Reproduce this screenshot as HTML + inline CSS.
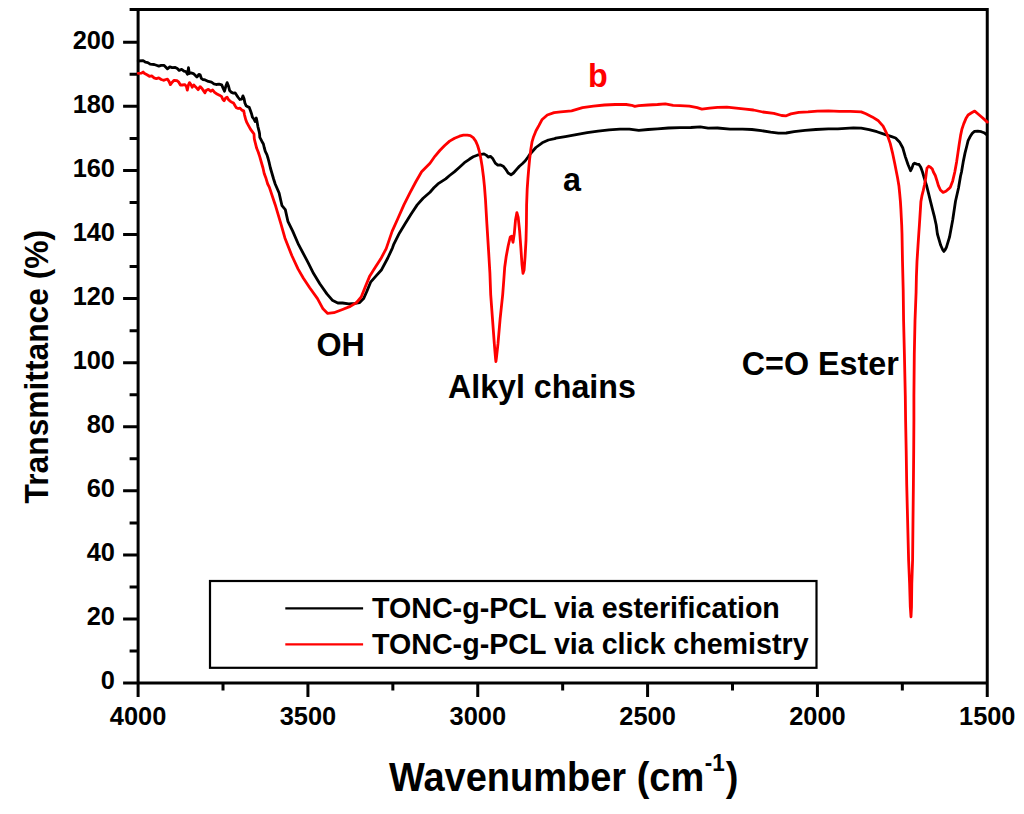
<!DOCTYPE html>
<html lang="en"><head><meta charset="utf-8"><title>FTIR spectra</title>
<style>html,body{margin:0;padding:0;background:#fff}svg{display:block}text{font-family:"Liberation Sans",Arial,Helvetica,sans-serif;font-weight:bold;fill:#000}</style></head><body>
<svg width="1024" height="814" viewBox="0 0 1024 814">
<rect width="1024" height="814" fill="#fff"/>
<g stroke="#000" stroke-width="3" fill="none" stroke-linecap="butt">
<path d="M129.6,9.5 H988.75 M987.25,9.5 V697.1 M123.1,683.1 H987.25 M138.1,9.5 V697.1"/>
<path d="M129.6,651.06 H138.1 M123.1,619.01 H138.1 M129.6,586.97 H138.1 M123.1,554.93 H138.1 M129.6,522.89 H138.1 M123.1,490.85 H138.1 M129.6,458.80 H138.1 M123.1,426.76 H138.1 M129.6,394.72 H138.1 M123.1,362.68 H138.1 M129.6,330.63 H138.1 M123.1,298.59 H138.1 M129.6,266.55 H138.1 M123.1,234.50 H138.1 M129.6,202.46 H138.1 M123.1,170.42 H138.1 M129.6,138.38 H138.1 M123.1,106.34 H138.1 M129.6,74.29 H138.1 M123.1,42.25 H138.1"/>
<path d="M223.01,683.1 V690.6 M307.93,683.1 V697.1 M392.85,683.1 V690.6 M477.76,683.1 V697.1 M562.67,683.1 V690.6 M647.59,683.1 V697.1 M732.50,683.1 V690.6 M817.42,683.1 V697.1 M902.34,683.1 V690.6"/>
</g>
<polyline points="138.2,61.0 143.1,60.6 145.4,62.2 147.8,62.6 150.2,64.2 154.1,64.5 156.4,65.3 158.8,66.1 161.2,65.3 163.9,65.3 165.9,67.3 167.4,68.9 169.8,66.9 172.2,67.7 175.3,67.5 177.3,68.5 179.2,70.4 181.6,69.3 184.0,71.2 185.9,71.6 187.5,74.4 188.5,67.7 189.3,73.6 191.0,72.8 193.4,73.6 195.4,75.6 196.9,77.1 198.9,74.4 200.1,74.8 201.3,78.3 202.8,79.5 205.2,79.9 208.4,81.4 211.5,82.2 213.9,83.8 216.2,84.5 219.0,84.2 221.7,84.9 223.1,88.1 224.5,91.2 226.0,85.7 227.1,82.6 228.4,85.7 229.6,90.4 231.6,92.4 233.5,93.2 235.1,92.8 236.7,95.2 238.2,97.5 239.8,99.5 241.8,99.1 242.9,95.9 244.1,98.7 244.9,103.0 246.1,105.8 248.1,106.9 249.2,107.3 250.4,110.5 251.6,114.0 252.4,117.2 254.0,119.1 255.1,121.5 256.3,118.0 257.1,121.9 257.9,126.6 259.1,131.3 259.6,134.0 259.8,137.3 261.8,141.2 263.4,144.0 264.2,147.5 265.3,151.4 266.9,154.6 268.1,158.5 269.3,163.2 270.4,168.0 272.0,173.5 273.6,179.0 275.2,184.0 279.1,193.0 282.0,205.7 285.3,209.6 287.9,221.3 292.7,231.1 298.6,244.7 306.4,259.4 308.1,262.7 313.6,273.6 319.8,283.8 326.9,293.9 332.3,300.2 337.8,303.0 342.5,303.0 348.8,303.8 355.0,303.3 359.7,302.5 363.6,298.6 366.7,291.6 370.6,282.2 376.1,275.9 381.6,269.7 387.8,258.0 392.5,247.8 393.6,244.7 399.5,232.9 405.4,223.3 411.3,213.7 417.2,204.9 423.1,198.3 430.0,192.2 433.9,187.8 437.9,183.9 441.8,181.4 445.7,178.9 449.6,175.5 454.6,171.6 459.5,167.2 464.4,162.7 469.3,159.3 473.2,156.8 477.2,155.2 481.1,154.4 484.0,153.9 486.5,155.4 488.4,157.1 490.4,156.3 492.9,158.8 495.3,163.2 497.8,165.2 500.7,165.0 503.2,166.2 505.6,169.1 508.1,173.0 511.0,174.8 513.5,173.0 516.4,169.6 519.4,166.2 522.3,163.7 525.3,160.8 528.2,156.8 529.7,154.5 535.9,147.5 542.2,142.8 548.4,140.0 554.7,138.6 555.9,138.1 565.3,136.6 576.2,134.7 587.2,132.7 598.1,131.1 609.1,129.8 620.0,129.1 629.4,129.2 638.8,130.3 648.1,129.5 657.5,128.8 668.4,128.0 680.0,127.7 690.9,127.5 700.3,126.9 708.1,128.1 717.5,128.0 730.0,129.1 742.5,129.1 751.9,129.5 761.2,130.6 770.6,132.2 778.4,133.1 786.2,133.0 794.1,131.6 805.0,130.3 815.9,129.5 828.4,128.8 837.8,128.9 845.6,128.3 853.4,127.8 861.2,128.1 869.1,129.7 876.9,131.7 884.7,134.4 890.9,136.4 895.6,138.0 899.5,141.9 902.7,147.7 905.3,156.6 908.0,164.5 910.6,170.7 911.9,168.1 913.3,164.1 914.6,163.2 916.8,164.1 919.0,164.5 920.8,167.2 922.5,172.0 924.2,177.9 926.6,185.7 928.6,193.6 930.5,201.4 932.5,209.3 934.5,217.2 936.2,225.0 937.4,234.0 940.7,245.3 942.8,250.0 943.9,251.4 945.0,250.0 946.4,247.3 949.5,237.2 952.7,220.0 955.5,201.2 958.5,188.0 960.5,176.2 961.5,172.0 963.2,161.9 965.0,153.1 966.8,146.0 968.1,140.7 969.9,137.1 972.1,133.6 974.3,131.4 977.8,131.2 981.3,131.7 984.0,132.7 986.5,134.5" fill="none" stroke="#000" stroke-width="2.8" stroke-linejoin="round" stroke-linecap="round"/>
<polyline points="138.2,73.3 141.5,73.2 143.1,72.0 144.6,73.6 147.0,74.8 149.4,76.3 151.7,75.9 154.1,77.9 156.4,78.7 158.8,77.9 161.2,79.5 163.5,80.3 165.9,79.5 167.4,79.1 169.0,81.4 170.4,84.6 172.2,82.2 174.1,80.3 176.9,80.7 178.8,82.2 180.4,85.0 182.4,85.0 184.7,84.6 186.3,86.2 187.3,90.1 188.3,85.4 189.5,82.6 191.0,84.6 192.2,87.3 193.8,85.0 195.7,86.9 198.1,89.7 200.1,86.6 202.0,88.5 203.6,90.9 205.0,92.8 206.0,90.4 208.4,89.3 210.7,91.2 212.7,90.0 214.6,92.4 217.0,94.0 219.4,95.2 221.7,96.7 222.9,99.5 224.1,100.7 225.7,97.9 227.1,97.1 228.4,99.5 230.0,101.1 231.9,102.2 233.5,103.0 235.1,105.8 236.3,107.7 238.2,108.5 239.8,108.1 241.8,110.1 243.7,110.9 244.5,114.8 245.7,119.5 246.9,122.7 248.8,126.2 250.8,129.7 253.2,132.9 254.0,134.0 254.3,138.9 255.5,143.6 256.7,148.3 258.3,152.2 259.8,156.9 261.4,162.5 263.0,168.0 264.2,173.5 265.7,177.4 266.9,181.3 267.7,184.0 269.3,187.1 275.2,204.7 281.0,224.2 284.9,237.9 291.8,255.5 298.0,268.9 303.4,278.3 309.7,287.7 317.5,298.6 323.0,308.8 327.7,313.4 333.9,312.7 342.5,309.5 350.3,306.4 356.6,302.5 361.2,297.0 365.2,286.9 369.8,275.9 375.3,267.3 380.8,258.8 386.2,248.6 392.1,231.4 398.0,218.2 403.9,204.9 409.8,193.1 415.7,182.0 421.6,171.7 430.0,163.2 434.9,156.3 439.8,150.5 444.7,145.5 449.6,141.1 454.6,138.2 459.5,136.2 463.4,135.2 467.3,135.2 470.3,135.7 473.2,137.7 475.7,141.1 477.6,145.5 479.1,150.5 480.6,157.3 482.1,166.2 483.5,177.0 484.5,186.8 485.5,200.0 486.9,224.1 488.6,251.1 489.9,273.0 490.7,294.6 492.5,319.1 494.3,343.7 495.5,358.0 495.9,361.5 496.4,358.0 498.0,343.7 500.1,319.1 502.7,294.6 503.8,280.0 504.7,267.3 506.2,256.5 508.2,245.7 510.3,236.9 511.6,236.2 513.0,242.3 514.3,233.5 515.5,220.0 516.9,212.6 518.2,217.3 519.6,230.8 520.9,248.4 522.0,264.6 523.0,273.4 524.1,270.0 525.1,256.5 526.0,240.3 526.4,224.1 526.6,205.0 527.2,188.8 527.9,178.9 528.7,169.1 529.6,159.3 530.8,149.5 532.1,141.6 533.6,136.7 536.0,130.8 539.0,125.4 541.9,119.8 547.3,115.0 554.1,112.7 560.6,111.9 571.6,110.8 582.5,107.7 593.4,106.1 604.4,105.0 615.3,104.5 626.2,104.5 631.7,105.3 634.8,106.4 638.8,105.6 648.1,105.0 657.5,104.5 665.3,103.8 673.1,105.3 680.0,105.6 689.4,106.1 697.2,107.7 701.9,109.2 709.7,108.1 717.5,107.3 726.9,107.2 736.2,108.1 745.6,109.2 753.4,110.0 762.8,112.0 773.8,113.4 781.6,115.5 786.2,115.8 790.9,113.9 798.8,112.3 808.1,111.9 817.5,111.1 828.4,110.9 839.4,111.4 850.3,111.4 861.2,111.9 865.9,113.8 872.2,116.9 878.4,120.8 883.1,126.2 887.0,134.1 890.2,143.4 892.5,152.8 894.8,163.8 897.6,177.9 898.9,185.7 899.7,193.6 900.4,201.4 900.9,209.3 901.3,217.2 901.7,225.0 902.0,234.0 902.5,261.4 903.2,290.0 903.6,321.0 904.4,354.0 905.3,396.0 905.6,420.0 906.2,451.0 906.7,484.0 907.6,520.0 908.6,560.0 909.6,583.6 910.3,607.0 911.0,616.8 911.5,607.0 911.8,583.6 912.6,560.0 913.0,520.0 913.4,484.0 913.7,451.0 913.9,420.0 913.9,396.0 914.3,354.0 915.0,321.0 916.1,292.0 916.4,277.0 917.0,261.4 918.0,245.7 918.9,232.0 919.4,225.0 919.9,217.2 920.4,209.3 920.9,201.4 921.9,195.9 923.3,190.4 924.6,184.2 925.7,177.9 926.4,172.0 927.0,168.1 928.7,166.3 930.5,167.2 932.3,169.0 933.4,172.0 935.3,175.5 936.8,180.2 938.4,185.7 940.4,190.0 943.1,192.4 945.9,191.2 948.6,188.9 950.3,187.2 952.7,180.9 954.8,172.0 956.6,161.9 957.9,153.1 959.2,144.2 960.6,135.4 961.9,129.2 963.7,123.9 965.9,118.6 968.1,115.0 971.6,112.8 974.7,111.1 977.8,113.7 981.3,116.8 984.9,119.9 987.3,122.1" fill="none" stroke="#ff0000" stroke-width="2.8" stroke-linejoin="round" stroke-linecap="round"/>
<text font-size="25.4" text-anchor="end" transform="translate(115.00,689.40) scale(1,1.05)">0</text>
<text font-size="25.4" text-anchor="end" transform="translate(115.00,625.31) scale(1,1.05)">20</text>
<text font-size="25.4" text-anchor="end" transform="translate(115.00,561.23) scale(1,1.05)">40</text>
<text font-size="25.4" text-anchor="end" transform="translate(115.00,497.15) scale(1,1.05)">60</text>
<text font-size="25.4" text-anchor="end" transform="translate(115.00,433.06) scale(1,1.05)">80</text>
<text font-size="25.4" text-anchor="end" transform="translate(115.00,368.98) scale(1,1.05)">100</text>
<text font-size="25.4" text-anchor="end" transform="translate(115.00,304.89) scale(1,1.05)">120</text>
<text font-size="25.4" text-anchor="end" transform="translate(115.00,240.81) scale(1,1.05)">140</text>
<text font-size="25.4" text-anchor="end" transform="translate(115.00,176.72) scale(1,1.05)">160</text>
<text font-size="25.4" text-anchor="end" transform="translate(115.00,112.64) scale(1,1.05)">180</text>
<text font-size="25.4" text-anchor="end" transform="translate(115.00,48.55) scale(1,1.05)">200</text>
<text font-size="25.4" text-anchor="middle" transform="translate(138.10,725.40) scale(1,1.05)">4000</text>
<text font-size="25.4" text-anchor="middle" transform="translate(307.93,725.40) scale(1,1.05)">3500</text>
<text font-size="25.4" text-anchor="middle" transform="translate(477.76,725.40) scale(1,1.05)">3000</text>
<text font-size="25.4" text-anchor="middle" transform="translate(647.59,725.40) scale(1,1.05)">2500</text>
<text font-size="25.4" text-anchor="middle" transform="translate(817.42,725.40) scale(1,1.05)">2000</text>
<text font-size="25.4" text-anchor="middle" transform="translate(987.25,725.40) scale(1,1.05)">1500</text>
<text font-size="38" transform="translate(389.00,791.00) scale(1,1.05)">Wavenumber (cm<tspan font-size="22.5" dy="-18.8" dx="0.5">-1</tspan><tspan dy="18.8" dx="1">)</tspan></text>
<text font-size="31.75" transform="translate(48.00,503.40) rotate(-90) scale(1,1.05)">Transmittance (%)</text>
<text font-size="32.3" transform="translate(316.40,356.10) scale(1,1.05)">OH</text>
<text font-size="32.2" transform="translate(448.00,397.80) scale(1,1.05)">Alkyl chains</text>
<text font-size="32.3" transform="translate(741.70,374.90) scale(1,1.05)">C=O Ester</text>
<text font-size="32.3" transform="translate(563.10,190.70) scale(1,1.05)">a</text>
<text font-size="32.3" style="fill:#ff0000" transform="translate(587.90,86.90) scale(1,1.05)">b</text>
<rect x="210" y="581" width="606.5" height="86.8" fill="#fff" stroke="#000" stroke-width="2.2"/>
<path d="M285.3,608.4 H363.1" stroke="#000" stroke-width="2.4"/>
<path d="M285.3,644.4 H363.1" stroke="#ff0000" stroke-width="2.4"/>
<text font-size="28.65" transform="translate(372.00,618.40) scale(1,1.05)">TONC-g-PCL via esterification</text>
<text font-size="28.65" transform="translate(372.00,654.40) scale(1,1.05)">TONC-g-PCL via click chemistry</text>
</svg></body></html>
